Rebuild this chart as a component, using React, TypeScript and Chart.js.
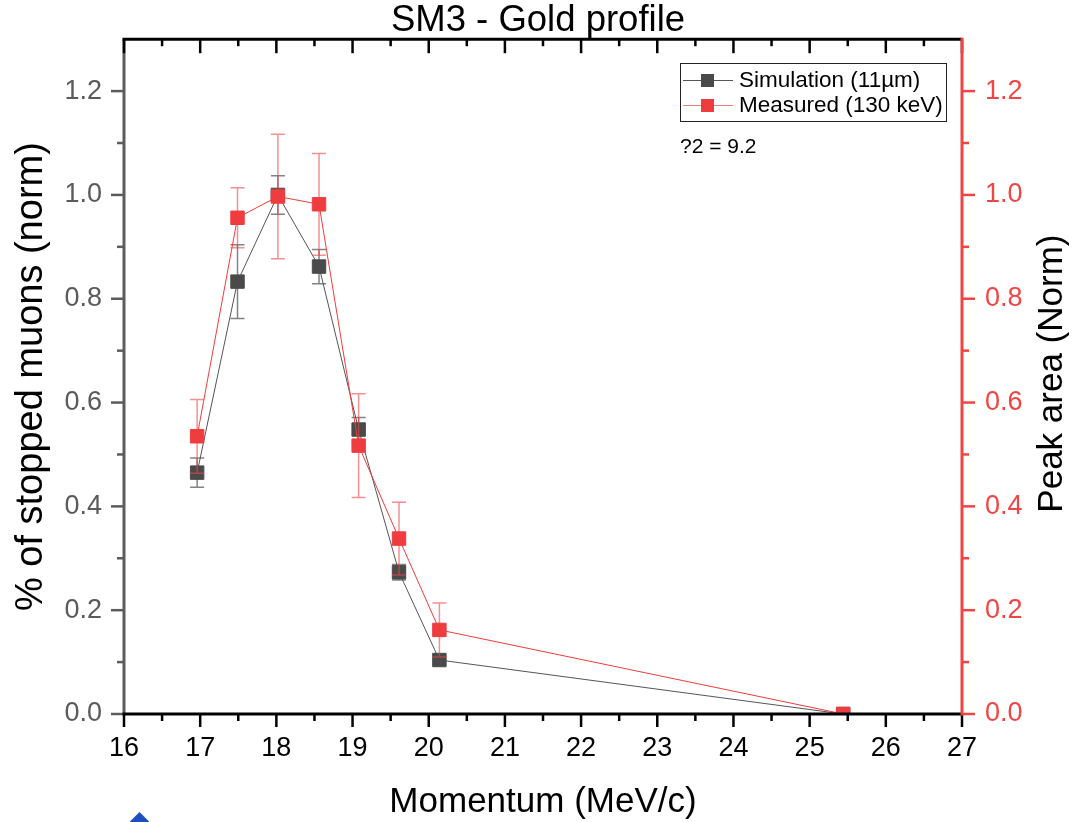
import React, { useEffect, useRef } from 'react';
import { Chart, registerables } from 'chart.js';

Chart.register(...registerables);

// ---- data ----
const momentum = [16.96, 17.49, 18.02, 18.56, 19.08, 19.61, 20.14, 25.44];
const simulation = [0.465, 0.833, 1.0, 0.862, 0.548, 0.273, 0.104, 0.0];
const simulationErr = [0.028, 0.071, 0.037, 0.033, 0.023, 0.015, 0.0, 0.0];
const measured = [0.535, 0.956, 0.997, 0.982, 0.517, 0.338, 0.162, 0.0];
const measuredErr = [0.071, 0.058, 0.12, 0.098, 0.1, 0.07, 0.052, 0.0];
const xTicks = [16, 17, 18, 19, 20, 21, 22, 23, 24, 25, 26, 27];
const xMinorTicks = [16.5, 17.5, 18.5, 19.5, 20.5, 21.5, 22.5, 23.5, 24.5, 25.5, 26.5];
const yTicks = [0, 0.2, 0.4, 0.6, 0.8, 1.0, 1.2];
const yMinorTicks = [0.1, 0.3, 0.5, 0.7, 0.9, 1.1];
const seriesLabels = ['Simulation (11µm)', 'Measured (130 keV)'];
const chiText = '?2 = 9.2';
const rightTitle = 'Peak area (Norm)';

const FONT = '"Liberation Sans", Arial, sans-serif';
const GRAY_LINE = '#555555';
const GRAY_MARK = '#4a4a4a';
const GRAY_AXIS = '#5c5c5c';
const RED_LINE = '#f23b3b';
const RED_MARK = '#ef3c3f';
const RED_AXIS = '#f04545';

const errorBarPlugin = {
  id: 'errorBars',
  beforeDatasetDraw(chart: any, args: any) {
    const ds = chart.data.datasets[args.index];
    const errs: number[] = ds.errors;
    if (!errs) return;
    const meta = args.meta;
    const xs = chart.scales[meta.xAxisID];
    const ys = chart.scales[meta.yAxisID];
    const { ctx, chartArea } = chart;
    ctx.save();
    ctx.beginPath();
    ctx.rect(chartArea.left, chartArea.top, chartArea.right - chartArea.left, chartArea.bottom - chartArea.top);
    ctx.clip();
    ctx.strokeStyle = ds.errorColor;
    ctx.lineWidth = 1.5;
    ds.data.forEach((p: any, i: number) => {
      const e = errs[i];
      if (!e) return;
      const px = xs.getPixelForValue(p.x);
      const pt = ys.getPixelForValue(p.y + e);
      const pb = ys.getPixelForValue(p.y - e);
      ctx.beginPath();
      ctx.moveTo(px, pt);
      ctx.lineTo(px, pb);
      ctx.moveTo(px - 7, pt);
      ctx.lineTo(px + 7, pt);
      ctx.moveTo(px - 7, pb);
      ctx.lineTo(px + 7, pb);
      ctx.stroke();
    });
    ctx.restore();
  },
};

const decorPlugin = {
  id: 'decor',
  afterDraw(chart: any) {
    const { ctx, chartArea } = chart;
    const { left, right, top, bottom } = chartArea;
    const xs = chart.scales.x;
    const ys = chart.scales.y;
    const ys2 = chart.scales.y2;
    const seg = (x1: number, y1: number, x2: number, y2: number) => {
      ctx.beginPath();
      ctx.moveTo(x1, y1);
      ctx.lineTo(x2, y2);
      ctx.stroke();
    };
    ctx.save();
    ctx.lineCap = 'butt';

    // left axis
    ctx.strokeStyle = GRAY_AXIS;
    ctx.lineWidth = 3;
    seg(left, top, left, bottom);
    ctx.lineWidth = 2.5;
    yTicks.forEach((v) => { const p = ys.getPixelForValue(v); seg(left - 13, p, left, p); });
    yMinorTicks.forEach((v) => { const p = ys.getPixelForValue(v); seg(left - 7, p, left, p); });

    // top axis
    ctx.strokeStyle = '#000';
    ctx.lineWidth = 3;
    seg(left - 1.5, top, right, top);
    ctx.lineWidth = 2.5;
    xTicks.forEach((v) => { const p = xs.getPixelForValue(v); seg(p, top, p, top + 14); });
    xMinorTicks.forEach((v) => { const p = xs.getPixelForValue(v); seg(p, top, p, top + 7); });

    // bottom axis
    ctx.lineWidth = 3;
    seg(left - 1.5, bottom, right, bottom);
    ctx.lineWidth = 2.5;
    xTicks.forEach((v) => { const p = xs.getPixelForValue(v); seg(p, bottom, p, bottom + 13); });
    xMinorTicks.forEach((v) => { const p = xs.getPixelForValue(v); seg(p, bottom, p, bottom + 7); });

    // right axis
    ctx.strokeStyle = RED_AXIS;
    ctx.lineWidth = 3;
    seg(right, top - 1.5, right, bottom + 1.5);
    ctx.lineWidth = 2.5;
    yTicks.forEach((v) => { const p = ys2.getPixelForValue(v); seg(right, p, right + 13, p); });
    yMinorTicks.forEach((v) => { const p = ys2.getPixelForValue(v); seg(right, p, right + 7, p); });

    // right axis title (reads bottom to top)
    ctx.save();
    ctx.translate(1052, (top + bottom) / 2 - 3);
    ctx.rotate(-Math.PI / 2);
    ctx.fillStyle = '#000';
    ctx.font = `35px ${FONT}`;
    ctx.textAlign = 'center';
    ctx.textBaseline = 'middle';
    ctx.fillText(rightTitle, 0, 0);
    ctx.restore();

    // legend box
    const bx = 680, by = 63, bw = 266, bh = 58;
    ctx.fillStyle = '#fff';
    ctx.fillRect(bx, by, bw, bh);
    ctx.strokeStyle = '#222';
    ctx.lineWidth = 1;
    ctx.strokeRect(bx + 0.5, by + 0.5, bw, bh);
    const rows = [
      { y: 80, line: GRAY_LINE, mark: GRAY_MARK, text: seriesLabels[0] },
      { y: 105, line: '#f27a7a', mark: RED_MARK, text: seriesLabels[1] },
    ];
    ctx.font = `22.5px ${FONT}`;
    ctx.textBaseline = 'middle';
    ctx.textAlign = 'left';
    rows.forEach((r) => {
      ctx.strokeStyle = r.line;
      ctx.lineWidth = 1;
      seg(683, r.y + 0.5, 733, r.y + 0.5);
      ctx.fillStyle = r.mark;
      ctx.fillRect(701, r.y - 6, 13, 13);
      ctx.fillStyle = '#000';
      ctx.fillText(r.text, 739, r.y + 1);
    });
    ctx.font = `21px ${FONT}`;
    ctx.fillText(chiText, 680, 147);

    // stray blue marker at the bottom edge
    ctx.fillStyle = '#1e4ec0';
    ctx.beginPath();
    ctx.moveTo(139.5, 812);
    ctx.lineTo(152.5, 825);
    ctx.lineTo(139.5, 838);
    ctx.lineTo(126.5, 825);
    ctx.closePath();
    ctx.fill();
    ctx.restore();
  },
};

export default function App() {
  const ref = useRef<HTMLCanvasElement | null>(null);
  useEffect(() => {
    if (!ref.current) return;
    const tickFont = { family: FONT, size: 27 };
    const titleFont = { family: FONT, size: 35, lineHeight: '36px' };
    const chart = new Chart(ref.current, {
      type: 'line',
      data: {
        datasets: [
          {
            label: seriesLabels[0],
            data: momentum.map((m, i) => ({ x: m, y: simulation[i] })),
            errors: simulationErr,
            errorColor: 'rgba(90,90,90,0.75)',
            borderColor: GRAY_LINE,
            borderWidth: 1,
            pointStyle: 'rect',
            pointRadius: 9.5,
            pointBorderWidth: 1,
            pointBackgroundColor: GRAY_MARK,
            pointBorderColor: GRAY_MARK,
            yAxisID: 'y',
            order: 1,
            tension: 0,
          } as any,
          {
            label: seriesLabels[1],
            data: momentum.map((m, i) => ({ x: m, y: measured[i] })),
            errors: measuredErr,
            errorColor: 'rgba(240,70,70,0.6)',
            borderColor: RED_LINE,
            borderWidth: 1,
            pointStyle: 'rect',
            pointRadius: 9.5,
            pointBorderWidth: 1,
            pointBackgroundColor: RED_MARK,
            pointBorderColor: RED_MARK,
            yAxisID: 'y2',
            order: 0,
            tension: 0,
          } as any,
        ],
      },
      options: {
        animation: false,
        responsive: true,
        maintainAspectRatio: false,
        layout: { padding: 0 },
        plugins: {
          legend: { display: false },
          tooltip: { enabled: false },
          title: {
            display: true,
            text: 'SM3 - Gold profile',
            color: '#000',
            font: { family: FONT, size: 36.5, weight: 'normal', lineHeight: '36px' } as any,
            padding: { top: 3, bottom: 0 },
          },
        },
        scales: {
          x: {
            type: 'linear',
            position: 'bottom',
            min: 16,
            max: 27,
            afterBuildTicks: (s: any) => { s.ticks = xTicks.map((v) => ({ value: v })); },
            ticks: { font: tickFont, color: '#000', padding: 18, callback: (v: any) => String(v) },
            grid: { display: false, drawTicks: false },
            border: { display: false },
            title: { display: true, text: 'Momentum (MeV/c)', color: '#000', font: titleFont as any, padding: { top: 0, bottom: 2 } },
            afterFit: (s: any) => { s.height = 108; },
          },
          y: {
            type: 'linear',
            position: 'left',
            min: 0,
            max: 1.3,
            afterBuildTicks: (s: any) => { s.ticks = yTicks.map((v) => ({ value: v })); },
            ticks: { font: tickFont, color: '#5a5a5a', padding: 22, callback: (v: any) => Number(v).toFixed(1) },
            grid: { display: false, drawTicks: false },
            border: { display: false },
            title: { display: true, text: '% of stopped muons (norm)', color: '#000', font: { family: FONT, size: 38, lineHeight: '36px' } as any, padding: { top: 14, bottom: 0 } },
            afterFit: (s: any) => { s.width = 124; },
          },
          y2: {
            type: 'linear',
            position: 'right',
            min: 0,
            max: 1.3,
            afterBuildTicks: (s: any) => { s.ticks = yTicks.map((v) => ({ value: v })); },
            ticks: { font: tickFont, color: RED_AXIS, padding: 23, callback: (v: any) => Number(v).toFixed(1) },
            grid: { display: false, drawTicks: false },
            border: { display: false },
            title: { display: false },
            afterFit: (s: any) => { s.width = 114; },
          },
        },
      },
      plugins: [errorBarPlugin, decorPlugin],
    } as any);
    return () => chart.destroy();
  }, []);
  return (
    <div style={{ position: 'fixed', left: 0, top: 0, width: 1076, height: 822, background: '#fff' }}>
      <canvas ref={ref} />
    </div>
  );
}
